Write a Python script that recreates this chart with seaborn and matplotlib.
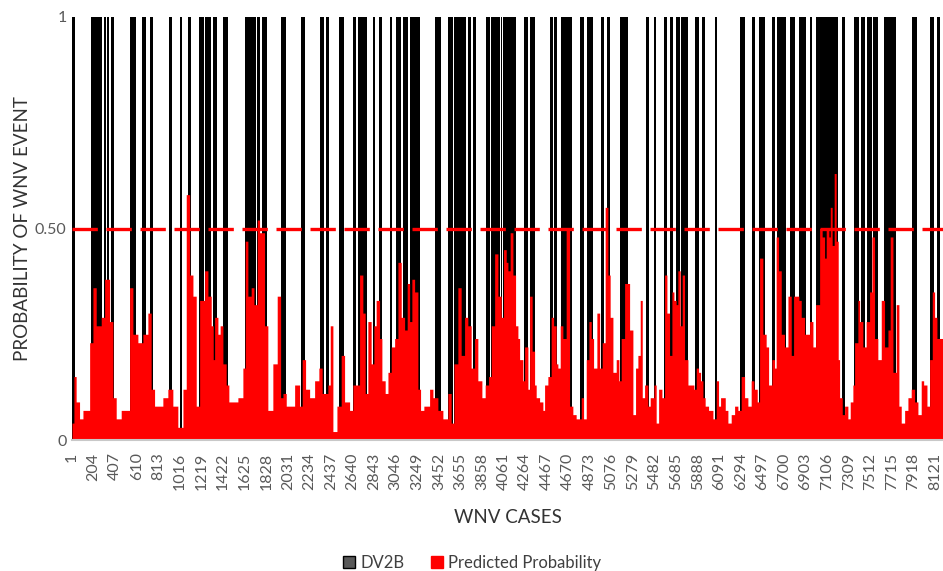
import numpy as np
import pandas as pd
import matplotlib
matplotlib.use("Agg")
import matplotlib.pyplot as plt
from matplotlib.patches import Patch
import seaborn as sns

# ---------------------------------------------------------------- data
n_cases = 8196

# DV2B = 1 for these runs of consecutive cases (0 elsewhere)
event_start = [1, 182, 301, 332, 370, 549, 659, 731, 913, 1013,
               1092, 1195, 1252, 1327, 1421, 1625, 1741, 1788, 1970, 2158,
               2337, 2393, 2512, 2644, 2691, 2832, 2886, 2990, 3052, 3115,
               3178, 3419, 3538, 3595, 3726, 3773, 3899, 3946, 4034, 4060,
               4250, 4307, 4495, 4532, 4605, 4783, 4849, 4981, 5034, 5159,
               5207, 5399, 5477, 5571, 5624, 5686, 5728, 5865, 5931, 6048,
               6283, 6402, 6465, 6587, 6631, 6753, 6841, 6942, 6998, 7249,
               7359, 7422, 7481, 7537, 7638, 7907, 8077, 8140]
event_end = [25, 285, 317, 351, 392, 605, 699, 762, 944, 1038,
             1123, 1242, 1311, 1360, 1468, 1729, 1772, 1838, 2011, 2195,
             2368, 2418, 2560, 2670, 2779, 2854, 2917, 3014, 3099, 3162,
             3272, 3475, 3585, 3710, 3757, 3805, 3930, 4025, 4049, 4175,
             4291, 4354, 4524, 4564, 4708, 4815, 4903, 5003, 5065, 5201,
             5232, 5430, 5498, 5602, 5655, 5718, 5797, 5897, 5959, 6072,
             6336, 6424, 6524, 6618, 6722, 6800, 6910, 6966, 7211, 7271,
             7406, 7459, 7525, 7584, 7757, 7952, 8109, 8171]

# predicted probability: first case of each stretch and its value
prob_start = [1, 19, 40, 72, 104, 167, 198, 229, 276, 308,
              355, 386, 417, 464, 543, 574, 621, 668, 715, 746,
              778, 856, 903, 950, 997, 1045, 1076, 1108, 1139, 1170,
              1202, 1249, 1280, 1311, 1330, 1343, 1374, 1395, 1421, 1452,
              1477, 1562, 1609, 1631, 1656, 1687, 1713, 1744, 1766, 1813,
              1844, 1891, 1932, 1964, 1986, 2017, 2096, 2143, 2167, 2199,
              2237, 2284, 2324, 2355, 2409, 2431, 2456, 2494, 2534, 2566,
              2613, 2644, 2707, 2738, 2760, 2785, 2816, 2842, 2863, 2895,
              2917, 2948, 2974, 3005, 3037, 3068, 3099, 3131, 3155, 3178,
              3199, 3225, 3256, 3281, 3312, 3366, 3397, 3444, 3491, 3538,
              3569, 3595, 3632, 3663, 3695, 3726, 3757, 3789, 3820, 3858,
              3889, 3921, 3946, 3978, 4009, 4040, 4062, 4087, 4103, 4124,
              4150, 4175, 4197, 4213, 4244, 4260, 4291, 4307, 4331, 4354,
              4369, 4401, 4432, 4448, 4479, 4510, 4533, 4557, 4573, 4595,
              4620, 4651, 4683, 4714, 4745, 4793, 4815, 4840, 4865, 4887,
              4909, 4940, 4966, 4990, 5018, 5044, 5065, 5091, 5122, 5147,
              5169, 5201, 5248, 5279, 5304, 5326, 5348, 5367, 5389, 5420,
              5442, 5477, 5498, 5521, 5552, 5577, 5599, 5624, 5646, 5665,
              5686, 5702, 5724, 5743, 5765, 5797, 5853, 5875, 5897, 5916,
              5938, 5959, 5991, 6032, 6063, 6085, 6104, 6148, 6173, 6204,
              6236, 6267, 6298, 6330, 6361, 6392, 6418, 6449, 6471, 6502,
              6533, 6556, 6587, 6612, 6627, 6650, 6675, 6706, 6738, 6769,
              6791, 6841, 6863, 6895, 6942, 6973, 6998, 7036, 7060, 7083,
              7098, 7123, 7136, 7154, 7173, 7192, 7211, 7224, 7249, 7271,
              7302, 7324, 7349, 7365, 7396, 7412, 7443, 7474, 7506, 7528,
              7553, 7584, 7616, 7647, 7679, 7700, 7726, 7757, 7782, 7804,
              7836, 7867, 7898, 7930, 7961, 7992, 8015, 8046, 8071, 8096,
              8118, 8140]
prob_value = [0.04, 0.15, 0.09, 0.05, 0.07, 0.23, 0.36, 0.27, 0.29, 0.38,
              0.28, 0.10, 0.05, 0.07, 0.36, 0.25, 0.23, 0.25, 0.30, 0.12,
              0.08, 0.10, 0.12, 0.08, 0.03, 0.12, 0.58, 0.39, 0.34, 0.08,
              0.33, 0.40, 0.34, 0.27, 0.19, 0.29, 0.25, 0.27, 0.18, 0.13,
              0.09, 0.10, 0.17, 0.47, 0.34, 0.36, 0.32, 0.52, 0.49, 0.27,
              0.07, 0.18, 0.34, 0.10, 0.11, 0.08, 0.13, 0.08, 0.19, 0.12,
              0.10, 0.14, 0.17, 0.11, 0.13, 0.27, 0.02, 0.08, 0.20, 0.09,
              0.07, 0.13, 0.39, 0.30, 0.11, 0.28, 0.18, 0.27, 0.33, 0.24,
              0.14, 0.11, 0.16, 0.22, 0.24, 0.42, 0.29, 0.26, 0.37, 0.28,
              0.38, 0.35, 0.12, 0.07, 0.08, 0.12, 0.10, 0.07, 0.05, 0.11,
              0.04, 0.18, 0.36, 0.20, 0.29, 0.27, 0.17, 0.24, 0.14, 0.10,
              0.13, 0.15, 0.27, 0.44, 0.34, 0.29, 0.45, 0.42, 0.40, 0.49,
              0.39, 0.27, 0.24, 0.19, 0.14, 0.22, 0.12, 0.34, 0.21, 0.13,
              0.10, 0.09, 0.07, 0.13, 0.15, 0.29, 0.27, 0.18, 0.17, 0.27,
              0.24, 0.50, 0.08, 0.06, 0.05, 0.10, 0.05, 0.19, 0.28, 0.24,
              0.17, 0.30, 0.17, 0.23, 0.55, 0.39, 0.29, 0.16, 0.19, 0.14,
              0.24, 0.37, 0.26, 0.06, 0.17, 0.20, 0.33, 0.10, 0.13, 0.08,
              0.10, 0.13, 0.04, 0.12, 0.10, 0.39, 0.30, 0.20, 0.35, 0.33,
              0.32, 0.40, 0.27, 0.39, 0.19, 0.13, 0.12, 0.17, 0.16, 0.14,
              0.10, 0.08, 0.07, 0.05, 0.14, 0.08, 0.10, 0.07, 0.04, 0.06,
              0.08, 0.07, 0.15, 0.10, 0.08, 0.14, 0.12, 0.09, 0.43, 0.25,
              0.22, 0.13, 0.19, 0.17, 0.48, 0.40, 0.25, 0.22, 0.34, 0.20,
              0.34, 0.33, 0.29, 0.25, 0.28, 0.22, 0.32, 0.50, 0.48, 0.43,
              0.50, 0.48, 0.55, 0.46, 0.63, 0.47, 0.19, 0.10, 0.06, 0.08,
              0.05, 0.09, 0.13, 0.23, 0.33, 0.28, 0.22, 0.28, 0.35, 0.48,
              0.24, 0.19, 0.33, 0.22, 0.26, 0.48, 0.16, 0.32, 0.08, 0.04,
              0.07, 0.10, 0.12, 0.09, 0.06, 0.14, 0.13, 0.08, 0.19, 0.35,
              0.29, 0.24]

threshold = 0.5
tick_cases = list(range(1, 8122, 203))
y_ticks = [0, 0.5, 1]
y_tick_labels = ["0", "0.50", "1"]

# ---------------------------------------------------------------- tables
ev = pd.DataFrame({"start": event_start, "end": event_end})
ev["mid"] = (ev["start"] + ev["end"]) / 2.0
ev["dv2b"] = 1.0
event_edges = [float(v) for pair in zip(ev["start"] - 0.5, ev["end"] + 0.5)
               for v in pair]

pr = pd.DataFrame({"start": prob_start, "prob": prob_value})
prob_edges = [float(s) - 0.5 for s in prob_start] + [n_cases + 0.5]
pr["mid"] = [(a + b) / 2.0 for a, b in zip(prob_edges[:-1], prob_edges[1:])]

# ---------------------------------------------------------------- style
sns.set_theme(style="white")
plt.rcParams["font.family"] = ["Lato", "DejaVu Sans"]

W, H = 943, 571
fig = plt.figure(figsize=(W / 100, H / 100), dpi=100)
ax = fig.add_axes([72 / W, 131 / H, 871 / W, 423 / H])

# DV2B (black, full height where the event occurred)
sns.histplot(data=ev, x="mid", weights="dv2b", bins=event_edges,
             element="step", fill=True, color="black", alpha=1,
             linewidth=0, ax=ax)
# predicted probability (red, in front)
sns.histplot(data=pr, x="mid", weights="prob", bins=prob_edges,
             element="step", fill=True, color="#ff0000", alpha=1,
             linewidth=0, ax=ax)

# 0.5 decision threshold
ax.axhline(threshold, color="#ff0000", lw=2.4, dashes=(7.6, 2.6),
           zorder=5)

ax.set_xlim(0.5, n_cases + 0.5)
ax.set_ylim(0, 1)

ax.set_xticks(tick_cases)
ax.set_xticklabels([str(t) for t in tick_cases], rotation=90,
                   fontsize=11.5, color="#595959")
ax.set_yticks(y_ticks)
ax.set_yticklabels(y_tick_labels, fontsize=11.5, color="#595959")
ax.tick_params(axis="x", length=0, pad=9)
ax.tick_params(axis="y", length=0, pad=4)

for side in ("left", "right", "top"):
    ax.spines[side].set_visible(False)
ax.spines["bottom"].set_color("#c8c8c8")
ax.spines["bottom"].set_linewidth(1.5)
ax.spines["bottom"].set_zorder(6)

ax.set_xlabel("WNV CASES", fontsize=13.5, color="#333333", labelpad=14)
ax.set_ylabel("PROBABILITY OF WNV EVENT", fontsize=13.5, color="#333333",
              labelpad=3)

handles = [Patch(facecolor="#595959", edgecolor="black", linewidth=1.0,
                 label="DV2B"),
           Patch(facecolor="#ff0000", edgecolor="#ff0000",
                 label="Predicted Probability")]
fig.legend(handles=handles, loc="center", bbox_to_anchor=(472 / W, 1 - 563 / H),
           ncol=2, frameon=False, fontsize=12, handlelength=0.75,
           handleheight=0.75, handletextpad=0.3, columnspacing=1.6,
           labelcolor="#404040")

fig.savefig("out.png", dpi=100)
